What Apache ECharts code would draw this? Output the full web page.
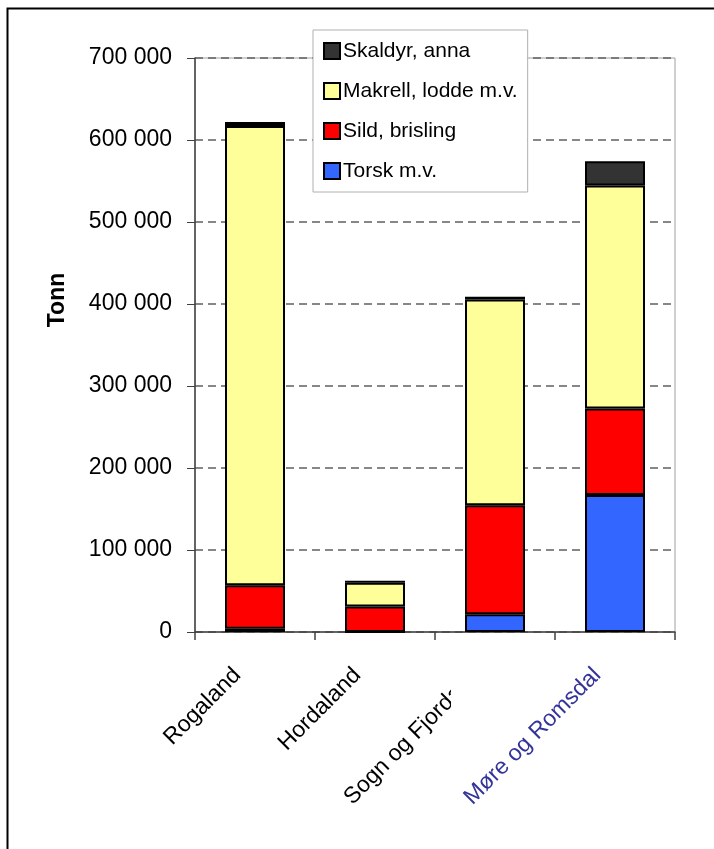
<!DOCTYPE html>
<html>
<head>
<meta charset="utf-8">
<script src="https://cdn.jsdelivr.net/npm/echarts@6/dist/echarts.min.js"></script>
<style>
html,body{margin:0;padding:0;background:#fff;}
#c{width:714px;height:849px;}
</style>
</head>
<body>
<div id="c"></div>
<script>
const categories = ['Rogaland', 'Hordaland', 'Sogn og Fjordane', 'Møre og Romsdal'];
const torsk   = [4000, 0, 21500, 167000];
const sild    = [53000, 31000, 133000, 105500];
const makrell = [560000, 29000, 251000, 272000];
const skaldyr = [5000, 2500, 3300, 29500];
const seriesNames = ['Torsk m.v.', 'Sild, brisling', 'Makrell, lodde m.v.', 'Skaldyr, anna'];
const yTicks = [0, 100000, 200000, 300000, 400000, 500000, 600000, 700000];

const colors = ['#3366FF', '#FF0000', '#FFFF99', '#333333'];
const values = [torsk, sild, makrell, skaldyr];
const FONT = '"Liberation Sans", Arial, sans-serif';

const chart = echarts.init(document.getElementById('c'), null, {renderer: 'canvas'});

function fmt(v) {
  return String(v).replace(/\B(?=(\d{3})+(?!\d))/g, ' ');
}

chart.setOption({
  backgroundColor: '#ffffff',
  animation: false,
  grid: {
    left: 195, right: 39, top: 58, bottom: 217,
    show: true, borderColor: '#a0a0a0', borderWidth: 1, backgroundColor: 'transparent'
  },
  legend: {
    data: seriesNames.slice().reverse(),
    orient: 'vertical',
    left: 313, top: 30,
    padding: [10, 10, 10, 10],
    itemGap: 18,
    itemWidth: 16, itemHeight: 16,
    icon: 'rect',
    backgroundColor: '#ffffff',
    borderColor: '#b0b0b0', borderWidth: 1,
    textStyle: {fontFamily: FONT, fontSize: 21, color: '#000', lineHeight: 22, padding: [0, 0, 0, -2]},
    z: 10
  },
  xAxis: {
    type: 'category',
    data: categories.map((c, i) => i === 3 ? {value: c, textStyle: {color: '#333399'}} : c),
    boundaryGap: true,
    axisLine: {show: true, lineStyle: {color: '#404040', width: 1.5}},
    axisTick: {show: true, length: 8, lineStyle: {color: '#404040', width: 1.5}},
    axisLabel: {
      interval: 0, rotate: 45, fontFamily: FONT, fontSize: 23, color: '#000', margin: 22,
      padding: [0, 25, 0, 0]
    },
    splitLine: {show: false}
  },
  yAxis: {
    type: 'value',
    min: 0, max: 700000, interval: 100000,
    name: 'Tonn',
    nameLocation: 'middle',
    nameGap: 126,
    nameRotate: 90,
    nameTextStyle: {fontFamily: FONT, fontSize: 23, fontWeight: 'bold', color: '#000', padding: [0, 0, 0, 90]},
    axisLine: {show: true, lineStyle: {color: '#404040', width: 1.5}},
    axisTick: {show: true, length: 8, inside: false, lineStyle: {color: '#404040', width: 1}},
    axisLabel: {
      fontFamily: FONT, fontSize: 23, color: '#000', margin: 23,
      formatter: v => yTicks.includes(v) ? fmt(v) : ''
    },
    splitLine: {show: true, lineStyle: {color: '#606060', type: [8, 5], width: 1.5}}
  },
  series: seriesNames.map((n, i) => ({
    name: n,
    type: 'bar',
    stack: 'total',
    barWidth: '50%',
    data: values[i],
    itemStyle: {color: colors[i], borderColor: '#000', borderWidth: 2},
    emphasis: {disabled: true}
  })),
  graphic: [
    {
      type: 'rect', left: 451, top: 645, z: 100,
      shape: {width: 40, height: 80},
      style: {fill: '#ffffff'}
    },
    {
      type: 'rect', left: 5, top: 6, z: 100,
      shape: {x: 0, y: 0, width: 800, height: 900},
      style: {fill: 'none', stroke: '#000', lineWidth: 2}
    }
  ]
});
</script>
</body>
</html>
